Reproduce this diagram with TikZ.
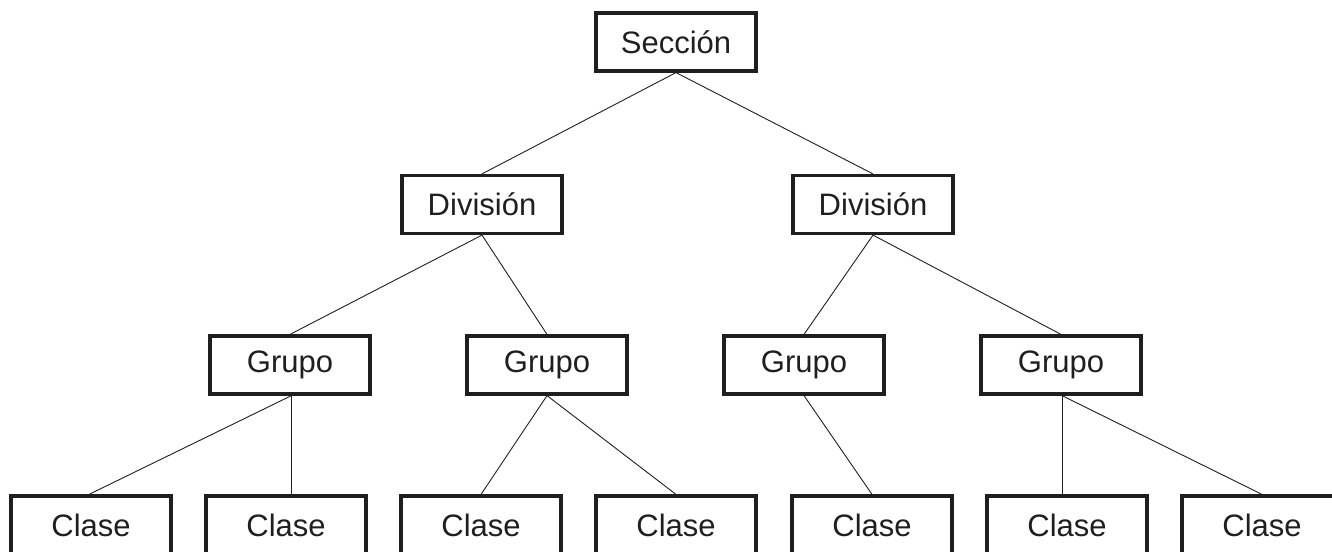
\documentclass[tikz,border=0pt]{standalone}
\usepackage{fontspec}
\setmainfont{Liberation Sans}
\begin{document}
\begin{tikzpicture}[x=1pt,y=1pt,
  box/.style={draw=black!88, line width=3.2pt, minimum width=160pt, minimum height=58pt,
    inner sep=0pt, font=\fontsize{31}{36}\selectfont, text=black!88},
  link/.style={draw=black!88, line width=0.9pt}]
\useasboundingbox (0,0) rectangle (1332,-551);
\clip (0,0) rectangle (1332,-551);
\node[box] (sec) at (676,-42) {Sección};
\node[box] (divL) at (482,-204.5) {División};
\node[box] (divR) at (873,-204.5) {División};
\node[box] (g1) at (290,-365) {Grupo};
\node[box] (g2) at (547,-365) {Grupo};
\node[box] (g3) at (804,-365) {Grupo};
\node[box] (g4) at (1061,-365) {Grupo};
\node[box] (c1) at (91,-525) {Clase};
\node[box] (c2) at (286,-525) {Clase};
\node[box] (c3) at (481,-525) {Clase};
\node[box] (c4) at (676,-525) {Clase};
\node[box] (c5) at (872,-525) {Clase};
\node[box] (c6) at (1067,-525) {Clase};
\node[box] (c7) at (1262,-525) {Clase};
\draw[link] (sec.south) -- (divL.north);
\draw[link] (sec.south) -- (divR.north);
\draw[link] (divL.south) -- (g1.north);
\draw[link] (divL.south) -- (g2.north);
\draw[link] (divR.south) -- (g3.north);
\draw[link] (divR.south) -- (g4.north);
\draw[link] ([xshift=1.5pt]g1.south) -- ([xshift=-2pt]c1.north);
\draw[link] ([xshift=1.5pt]g1.south) -- ([xshift=1.5pt]g1.south |- c2.north);
\draw[link] (g2.south) -- (c3.north);
\draw[link] (g2.south) -- (c4.north);
\draw[link] (g3.south) -- (c5.north);
\draw[link] ([xshift=1pt]g4.south) -- ([xshift=1pt]g4.south |- c6.north);
\draw[link] ([xshift=1pt]g4.south) -- (c7.north);
\end{tikzpicture}
\end{document}
